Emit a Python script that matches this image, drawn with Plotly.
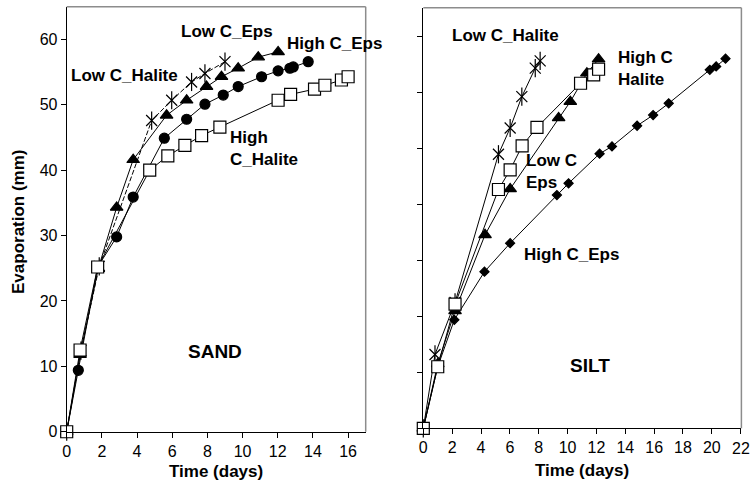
import plotly.graph_objects as go

# ---------------- SAND (left panel) ----------------
sand_hi_eps_t = [0, 0.66, 1.76, 2.84, 3.78, 5.55, 6.82, 7.86, 8.9, 9.75, 11.08, 12.02, 12.69, 12.88, 13.73]
sand_hi_eps_e = [0, 9.4, 25.2, 29.8, 35.9, 44.9, 47.8, 50.1, 51.5, 52.8, 54.3, 55.2, 55.6, 55.8, 56.6]

sand_hi_hal_t = [0, 0.76, 1.76, 4.72, 5.75, 6.72, 7.67, 8.71, 12.02, 12.73, 14.09, 14.68, 15.62, 16.0]
sand_hi_hal_e = [0, 12.5, 25.2, 40.0, 42.2, 43.8, 45.3, 46.6, 50.7, 51.6, 52.4, 53.0, 53.8, 54.3]

sand_lo_eps_t = [0, 0.76, 1.8, 2.84, 3.78, 5.68, 6.82, 7.95, 8.8, 9.75, 10.89, 12.02]
sand_lo_eps_e = [0, 11.8, 25.0, 34.3, 41.6, 48.4, 50.7, 52.8, 54.3, 55.6, 57.3, 58.1]

sand_lo_hal_t = [0, 0.81, 1.85, 4.83, 5.97, 7.1, 7.86, 9.0]
sand_lo_hal_e = [0, 12.4, 25.3, 47.6, 50.7, 53.5, 54.8, 56.6]

# ---------------- SILT (right panel) ----------------
silt_hi_eps_t = [0, 1.0, 2.15, 4.24, 6.02, 9.26, 10.07, 12.22, 13.08, 14.82, 15.93, 17.01, 19.86, 20.3, 20.95]
silt_hi_eps_e = [0, 11.0, 19.4, 28.0, 33.1, 41.7, 43.8, 49.1, 50.4, 54.1, 56.0, 58.1, 64.1, 64.7, 66.1]

silt_hi_hal_t = [0, 1.0, 2.2, 5.21, 6.02, 6.85, 7.88, 10.9, 11.81, 12.15]
silt_hi_hal_e = [0, 11.0, 22.2, 42.7, 46.2, 50.5, 53.8, 61.7, 63.2, 64.2]

silt_lo_eps_t = [0, 1.0, 2.2, 4.28, 6.02, 9.38, 10.19, 11.34, 12.15]
silt_lo_eps_e = [0, 11.5, 21.0, 34.6, 42.8, 55.5, 58.4, 63.5, 66.0]

silt_lo_hal_t = [0, 0.81, 2.2, 5.21, 6.02, 6.83, 7.76, 8.1]
silt_lo_hal_e = [0, 13.2, 22.5, 49.0, 53.7, 59.3, 64.4, 65.7]

x_ticks_sand = [0, 2, 4, 6, 8, 10, 12, 14, 16]
x_ticks_silt = [0, 2, 4, 6, 8, 10, 12, 14, 16, 18, 20]
x_tick_silt_last = 22
y_ticks = [0, 10, 20, 30, 40, 50, 60]
y_ticks_silt = [0, 10, 20, 30, 40, 50, 60, 70]

FONT = "Arial, Liberation Sans, sans-serif"
BLK = "black"
W = 760  # figure slightly wider than the 750px window

fig = go.Figure()


def add_series(x, y, xa, ya, symbol, size, fill=True, dash="solid", lw=1.0):
    fig.add_trace(go.Scatter(
        x=x, y=y, xaxis=xa, yaxis=ya, mode="lines+markers", cliponaxis=False,
        line=dict(color=BLK, width=lw, dash=dash),
        marker=dict(symbol=symbol, size=size,
                    color=BLK if fill else "white",
                    line=dict(color=BLK, width=1.2)),
        showlegend=False, hoverinfo="x+y"))


def add_star(x, y, xa, ya, dash="solid"):
    add_series(x, y, xa, ya, "x-thin-open", 11, dash=dash)
    fig.add_trace(go.Scatter(
        x=x, y=y, xaxis=xa, yaxis=ya, mode="markers", cliponaxis=False,
        marker=dict(symbol="line-ns-open", size=13, color=BLK,
                    line=dict(color=BLK, width=1.2)),
        showlegend=False, hoverinfo="skip"))


# Left panel
add_star(sand_lo_hal_t, sand_lo_hal_e, "x", "y", dash="5px,2px")
add_series(sand_lo_eps_t, sand_lo_eps_e, "x", "y", "triangle-up", 11)
add_series(sand_hi_eps_t, sand_hi_eps_e, "x", "y", "circle", 10)
add_series(sand_hi_hal_t, sand_hi_hal_e, "x", "y", "square", 12, fill=False)

# Right panel
add_series(silt_hi_eps_t, silt_hi_eps_e, "x2", "y2", "diamond", 7)
add_star(silt_lo_hal_t, silt_lo_hal_e, "x2", "y2")
add_series(silt_lo_eps_t, silt_lo_eps_e, "x2", "y2", "triangle-up", 11)
add_series(silt_hi_hal_t, silt_hi_hal_e, "x2", "y2", "square", 12, fill=False)

axis_common = dict(showgrid=False, zeroline=False, showline=True, linecolor=BLK, linewidth=1,
                   ticks="outside", ticklen=5, tickcolor=BLK, tickwidth=1, automargin=False,
                   tickfont=dict(family=FONT, size=16, color=BLK))
axis_nolab = {k: v for k, v in axis_common.items() if k != "tickfont"}

fig.update_layout(
    width=W, height=484,
    margin=dict(l=0, r=0, t=0, b=0),
    paper_bgcolor="white", plot_bgcolor="white",
    xaxis=dict(domain=[66.7 / W, 365.7 / W], range=[0, 17], tickvals=x_ticks_sand,
               anchor="y", **axis_common),
    yaxis=dict(domain=[0.108, 0.986], range=[0, 65], tickvals=y_ticks, anchor="x",
               **axis_common),
    xaxis2=dict(domain=[423.3 / W, 741.4 / W], range=[0, 22.05],
                tickvals=x_ticks_silt + [x_tick_silt_last],
                ticktext=[str(v) for v in x_ticks_silt] + [""],
                anchor="y2", **axis_common),
    yaxis2=dict(domain=[0.1151, 0.984], range=[0, 75.2], tickvals=y_ticks_silt, anchor="x2",
                showticklabels=False, **axis_nolab),
)

# grey plot-area border (top and right)
for xa, ya in (("x", "y"), ("x2", "y2")):
    fig.add_shape(type="line", xref=f"{xa} domain", yref=f"{ya} domain",
                  x0=0, x1=1, y0=1, y1=1, line=dict(color="#8c8c8c", width=1.5))
    fig.add_shape(type="line", xref=f"{xa} domain", yref=f"{ya} domain",
                  x0=1, x1=1, y0=0, y1=1, line=dict(color="#8c8c8c", width=1.5))


def label(text, x, y, xa, ya, size=17, align="center", xanchor="center", angle=0, bold=True):
    fig.add_annotation(text=f"<b>{text}</b>" if bold else text, x=x, y=y, xref=xa, yref=ya,
                       showarrow=False,
                       font=dict(family=FONT, size=size, color=BLK), align=align,
                       xanchor=xanchor, yanchor="middle", textangle=angle)


# last tick label of the silt time axis, placed by hand at the window edge
label(str(x_tick_silt_last), x_tick_silt_last, 1 - 448 / 484, "x2", "paper", size=16, bold=False)

# axis titles (paper coordinates)
label("Time (days)", 216 / W, 1 - 471.5 / 484, "paper", "paper", size=17)
label("Time (days)", 581.7 / W, 1 - 470.7 / 484, "paper", "paper", size=17)
label("Evaporation (mm)", 18.5 / W, 1 - 221.5 / 484, "paper", "paper", size=17, angle=-90)

label("Low C_Eps", 9.09, 61.2, "x", "y")
label("High C_Eps", 15.25, 59.4, "x", "y")
label("Low C_Halite", 3.26, 54.5, "x", "y")
label("High<br>C_Halite", 9.15, 43.3, "x", "y", align="left", xanchor="left")
label("SAND", 8.43, 12.3, "x", "y", size=19)

label("Low C_Halite", 5.71, 70.2, "x2", "y2")
label("High C<br>Halite", 13.35, 64.4, "x2", "y2", align="left", xanchor="left")
label("Low C<br>Eps", 7.0, 46.0, "x2", "y2", align="left", xanchor="left")
label("High C_Eps", 10.24, 31.0, "x2", "y2")
label("SILT", 11.58, 11.3, "x2", "y2", size=19)

fig.write_html("out.html", config={"displayModeBar": False},
               post_script="document.body.style.margin='0px';document.body.style.overflow='hidden';")
